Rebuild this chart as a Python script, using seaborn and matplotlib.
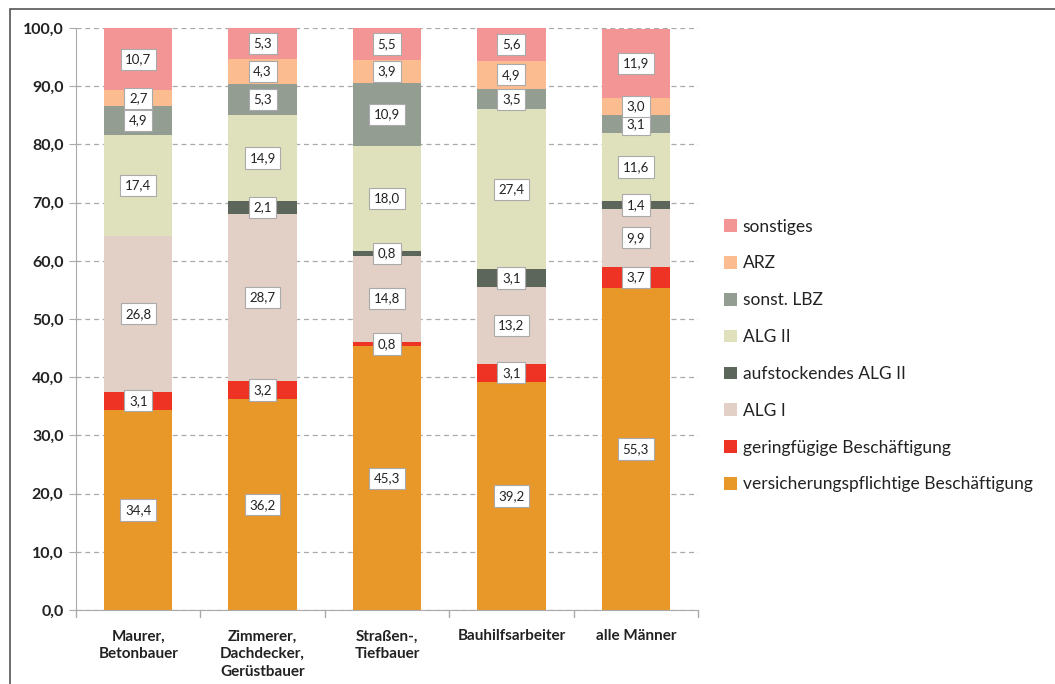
import numpy as np
import pandas as pd
import matplotlib
matplotlib.use("Agg")
import matplotlib.pyplot as plt
import seaborn as sns
from matplotlib.patches import Rectangle

categories = ["Maurer,\nBetonbauer", "Zimmerer,\nDachdecker,\nGerüstbauer",
              "Straßen-,\nTiefbauer", "Bauhilfsarbeiter", "alle Männer"]

# stacked from bottom to top
series = ["versicherungspflichtige Beschäftigung", "geringfügige Beschäftigung",
          "ALG I", "aufstockendes ALG II", "ALG II", "sonst. LBZ", "ARZ", "sonstiges"]
versicherungspflichtig = [34.4, 36.2, 45.3, 39.2, 55.3]
geringfuegig = [3.1, 3.2, 0.8, 3.1, 3.7]
alg1 = [26.8, 28.7, 14.8, 13.2, 9.9]
aufstockend = [0.0, 2.1, 0.8, 3.1, 1.4]
alg2 = [17.4, 14.9, 18.0, 27.4, 11.6]
sonst_lbz = [4.9, 5.3, 10.9, 3.5, 3.1]
arz = [2.7, 4.3, 3.9, 4.9, 3.0]
sonstiges = [10.7, 5.3, 5.5, 5.6, 11.9]

colors = ["#E89828", "#EE3224", "#E2D0C6", "#5D665B", "#DFE1BC", "#939D92", "#FBBD8F", "#F49595"]

values = np.array([versicherungspflichtig, geringfuegig, alg1, aufstockend,
                   alg2, sonst_lbz, arz, sonstiges])
tops = values.cumsum(axis=0)

sns.set_style("white")
plt.rcParams["font.family"] = ["Lato", "DejaVu Sans"]

fig = plt.figure(figsize=(10.55, 6.84), dpi=100)
ax = fig.add_axes([76 / 1055, 1 - 610 / 684, 622 / 1055, 582 / 684])

# draw cumulative tops from highest to lowest so lower segments overlay
for i in range(len(series) - 1, -1, -1):
    df = pd.DataFrame({"cat": categories, "top": tops[i]})
    sns.barplot(data=df, x="cat", y="top", color=colors[i], width=0.55,
                saturation=1, ax=ax, zorder=2, label=series[i], linewidth=0)

handles, labels = ax.get_legend_handles_labels()
if ax.get_legend() is not None:
    ax.get_legend().remove()

# value labels
for i in range(len(series)):
    for j in range(len(categories)):
        v = values[i, j]
        if v <= 0:
            continue
        ymid = tops[i, j] - v / 2
        ax.text(j, ymid, f"{v:.1f}".replace(".", ","), ha="center", va="center",
                fontsize=9.5, color="#222222", zorder=5,
                bbox=dict(boxstyle="square,pad=0.35", fc="white", ec="#AAAAAA", lw=0.8))

ax.set_ylim(0, 100)
ax.set_xlim(-0.5, len(categories) - 0.5)
ax.set_yticks(np.arange(0, 101, 10))
ax.set_yticklabels([f"{t:.1f}".replace(".", ",") for t in np.arange(0, 101, 10)],
                   fontsize=11.5, fontweight="bold", color="#222222")
ax.set_xticks(range(len(categories)))
ax.set_xticklabels(categories, fontsize=11, fontweight="bold", color="#222222",
                   linespacing=1.35)
ax.tick_params(axis="x", length=0, pad=14)
ax.tick_params(axis="y", length=5, color="#AAAAAA", direction="out", pad=4, left=True)
for b in np.arange(-0.5, len(categories), 1.0):
    ax.plot([b, b], [0, -1.2], color="#AAAAAA", lw=1, clip_on=False, zorder=3)
ax.set_xlabel("")
ax.set_ylabel("")

ax.yaxis.grid(True, linestyle=(0, (4, 3)), color="#AAAAAA", lw=0.9)
ax.set_axisbelow(True)
for s in ["top", "right"]:
    ax.spines[s].set_visible(False)
ax.spines["left"].set_color("#AAAAAA")
ax.spines["bottom"].set_color("#AAAAAA")

# legend
order = [labels.index(s) for s in series[::-1]]
leg = fig.legend([handles[k] for k in order], [labels[k] for k in order],
                 loc="upper left", bbox_to_anchor=(708 / 1055, 1 - 203 / 684),
                 frameon=False, fontsize=12.5, labelspacing=1.2,
                 handlelength=0.75, handleheight=0.75, handletextpad=0.35)
for t in leg.get_texts():
    t.set_color("#222222")

# outer frame
fig.patches.append(Rectangle((10 / 1055, -0.1), 1.2, 1.1 - 9 / 684,
                             transform=fig.transFigure, fill=False,
                             ec="#555555", lw=1.2, zorder=0))

fig.savefig("out.png", dpi=100)
